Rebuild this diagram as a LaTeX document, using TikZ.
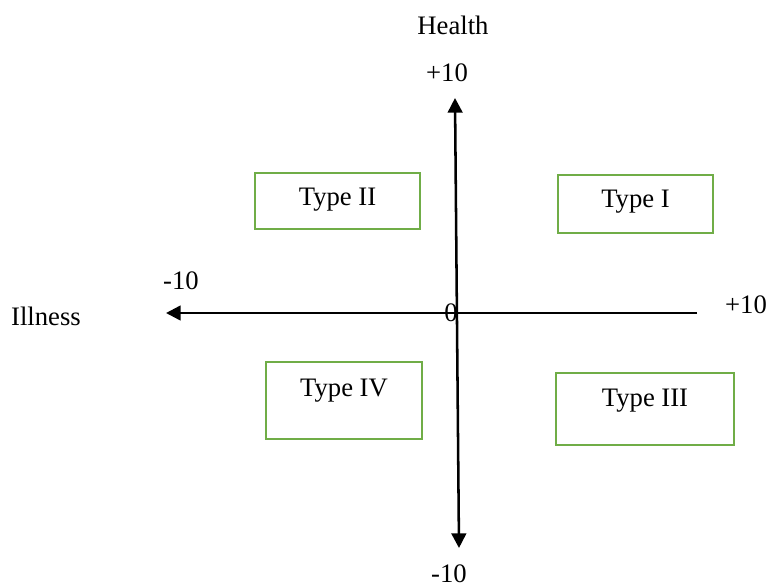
\documentclass[tikz,border=0pt]{standalone}
\usepackage{fontspec}
\setmainfont{Liberation Serif}
\usetikzlibrary{arrows.meta}
\definecolor{boxgreen}{RGB}{112,173,71}
\begin{document}
\begin{tikzpicture}[x=0.75pt,y=-0.75pt,
  lbl/.style={font=\fontsize{20pt}{24pt}\selectfont, inner sep=0pt},
  quadbox/.style={draw=boxgreen, line width=2pt, inner sep=0pt},
  axis/.style={line width=1.9pt, -{Triangle[length=11pt,width=11pt]}}]
\useasboundingbox (0,0) rectangle (768,587);
% axes
\coordinate (hR) at (697,313);
\coordinate (hL) at (166,313);
\coordinate (vT) at (455,98);
\coordinate (vB) at (459,548);
\coordinate (vM) at (457,323);
\draw[axis] (hR) -- (hL);
\draw[axis] (vM) -- (vT);
\draw[axis] (vM) -- (vB);
% labels
\node[lbl] (health) at (453,25) {Health};
\node[lbl] (ptop) at (447,73) {+10};
\node[lbl] (mleft) at (181,281) {-10};
\node[lbl] (illness) at (46,316) {Illness};
\node[lbl] (pright) at (746,305) {+10};
\node[lbl] (zero) at (451,313) {0};
\node[lbl] (mbot) at (449,574) {-10};
% boxes
\node[quadbox, minimum width=165*0.75pt, minimum height=56*0.75pt] (b2) at (337.5,201) {};
\node[lbl] (t2) at (337.5,200) {Type II};
\node[quadbox, minimum width=155*0.75pt, minimum height=58*0.75pt] (b1) at (635.5,204) {};
\node[lbl] (t1) at (635.5,202) {Type I};
\node[quadbox, minimum width=156*0.75pt, minimum height=77*0.75pt] (b4) at (344,400.5) {};
\node[lbl] (t4) at (344,391) {Type IV};
\node[quadbox, minimum width=178*0.75pt, minimum height=72*0.75pt] (b3) at (645,409) {};
\node[lbl] (t3) at (645,401) {Type III};
\end{tikzpicture}
\end{document}
